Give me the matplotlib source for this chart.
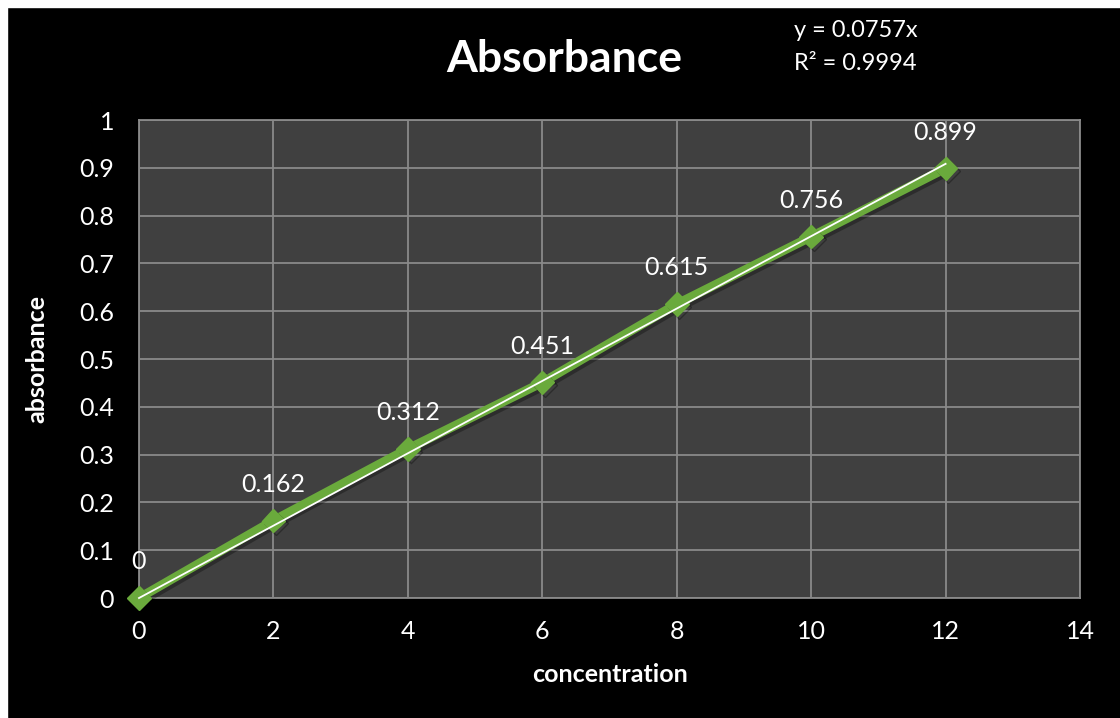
import numpy as np
import matplotlib.pyplot as plt
import matplotlib.patheffects as pe

plt.rcParams['font.family'] = ['Lato', 'DejaVu Sans']

# calibration data
concentration = [0, 2, 4, 6, 8, 10, 12]
absorbance = [0, 0.162, 0.312, 0.451, 0.615, 0.756, 0.899]
slope = 0.0757
r_squared = 0.9994

x_ticks = np.arange(0, 15, 2)
y_ticks = np.round(np.arange(0, 1.01, 0.1), 1)

green = "#6aaa3c"
grid_col = "#8a8a8a"

fig = plt.figure(figsize=(11.2, 7.18), dpi=100, facecolor="black")
ax = fig.add_axes([0.1241, 0.1671, 0.8402, 0.6657])
ax.set_facecolor("#404040")

ax.set_xlim(0, 14)
ax.set_ylim(0, 1)
ax.set_xticks(x_ticks)
ax.set_yticks(y_ticks)
ax.set_xticklabels([str(v) for v in x_ticks])
ax.set_yticklabels([f"{v:g}" for v in y_ticks])
ax.grid(True, color=grid_col, linewidth=1.3)
ax.set_axisbelow(True)
for s in ax.spines.values():
    s.set_color(grid_col)
    s.set_linewidth(1.3)
ax.tick_params(length=0, colors="white", labelsize=18, pad=16)
ax.tick_params(axis="y", pad=18)

# series with a soft drop shadow
shadow = [pe.SimpleLineShadow(offset=(2, -2), shadow_color="black", alpha=0.3), pe.Normal()]
ax.plot(concentration, absorbance, color=green, linewidth=6.5, marker="D",
        markersize=12, markerfacecolor=green, markeredgecolor=green,
        path_effects=shadow, clip_on=False, zorder=3)

# linear trendline through the origin
xt = np.array([concentration[0], concentration[-1]])
ax.plot(xt, slope * xt, color="white", linewidth=1.3, zorder=4, clip_on=False)

for x, y in zip(concentration, absorbance):
    ax.annotate(f"{y:g}", (x, y), xytext=(0, 26), textcoords="offset points",
                ha="center", va="center", color="white", fontsize=18)

ax.set_xlabel("concentration", color="white", fontsize=18, fontweight="bold", labelpad=14)
ax.set_ylabel("absorbance", color="white", fontsize=18, fontweight="bold", labelpad=22)
fig.text(0.504, 0.918, "Absorbance", color="white", fontsize=32, fontweight="bold",
         ha="center", va="center")
fig.text(0.709, 0.957, f"y = {slope}x", color="white", fontsize=17, ha="left", va="center")
fig.text(0.709, 0.912, f"R² = {r_squared}", color="white", fontsize=17, ha="left", va="center")

# white strips along the top and left edges
fig.patches.append(plt.Rectangle((0, 0.99), 1, 0.01, transform=fig.transFigure,
                                 color="white", zorder=10))
fig.patches.append(plt.Rectangle((0, 0), 0.006, 1, transform=fig.transFigure,
                                 color="white", zorder=10))

fig.savefig("out.png", dpi=100, facecolor="black")
